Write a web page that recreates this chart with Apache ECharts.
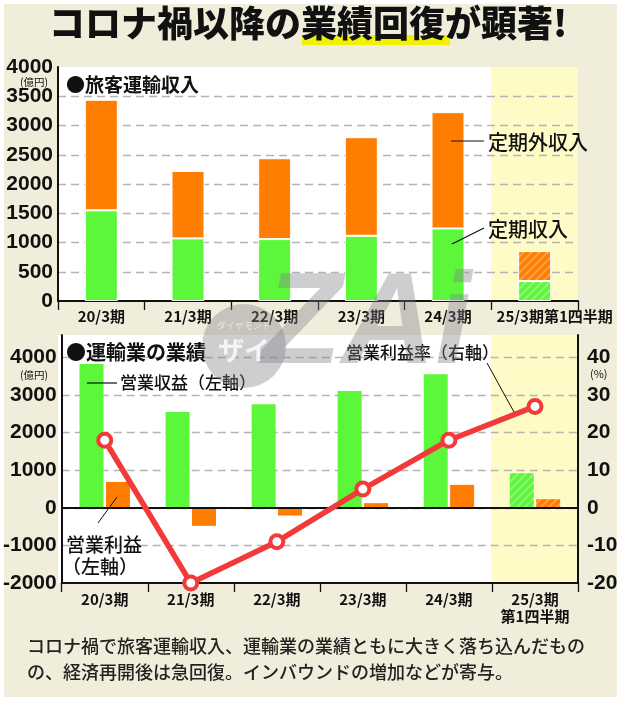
<!DOCTYPE html>
<html><head><meta charset="utf-8">
<script src="https://cdn.jsdelivr.net/npm/echarts@6/dist/echarts.min.js"></script>
<style>html,body{margin:0;padding:0;background:#fff}#c{width:621px;height:702px}</style>
</head><body><div id="c"></div>
<script>
// ---- data ----
const categories = ['20/3期','21/3期','22/3期','23/3期','24/3期','25/3期第1四半期'];
const categoriesBottom = ['20/3期','21/3期','22/3期','23/3期','24/3期','25/3期\n第1四半期'];
const teikiIncome = [1550, 1070, 1058, 1115, 1240, 340];      // 定期収入
const teikigaiIncome = [1890, 1152, 1382, 1685, 1988, 513];   // 定期外収入
const operatingRevenue = [3830, 2553, 2757, 3112, 3555, 922]; // 営業収益
const operatingProfit = [690, -479, -205, 125, 612, 231];     // 営業利益
const operatingMargin = [18, -20, -9, 5, 18, 27];             // 営業利益率(%)
const topTicks = [0, 500, 1000, 1500, 2000, 2500, 3000, 3500, 4000];
const bottomLeftTicks = [-2000, -1000, 0, 1000, 2000, 3000, 4000];
const bottomRightTicks = [-20, -10, 0, 10, 20, 30, 40];

// ---- styles ----
const GREEN = '#5cf63a', ORANGE = '#ff7d00', RED = '#f23a3a', YELLOW = '#fffbc6';
const NUMFONT = '"Liberation Sans Narrow","Liberation Sans",sans-serif';
const JPFONT = '"Noto Sans CJK JP",sans-serif';

function hatch(base, stripe) {
  const c = document.createElement('canvas'); c.width = 8; c.height = 8;
  const g = c.getContext('2d');
  g.fillStyle = base; g.fillRect(0, 0, 8, 8);
  g.strokeStyle = stripe; g.lineWidth = 1.6;
  g.beginPath();
  g.moveTo(-2, 10); g.lineTo(10, -2);
  g.moveTo(-2, 2); g.lineTo(2, -2);
  g.moveTo(6, 10); g.lineTo(10, 6);
  g.stroke();
  return { image: c, repeat: 'repeat' };
}
const GREEN_H = hatch(GREEN, 'rgba(255,255,255,0.35)');
const ORANGE_H = hatch(ORANGE, 'rgba(255,255,255,0.3)');

const last = categories.length - 1;
function withHatch(arr, pat) {
  return arr.map((v, i) => i === last ? { value: v, itemStyle: { color: pat } } : v);
}

const chart = echarts.init(document.getElementById('c'), null, { renderer: 'canvas' });

const yLabel = { color: '#111', fontFamily: NUMFONT, fontWeight: 'bold', fontSize: 21 };
const xLabel = { color: '#111', fontFamily: JPFONT, fontWeight: 'bold', fontSize: 15 };
const dashed = { show: true, lineStyle: { color: '#b4b4b4', type: [8, 5], width: 1.4 } };

const option = {
  backgroundColor: '#ffffff',
  animation: false,
  grid: [
    { left: 58, top: 67, width: 520, height: 234 },
    { left: 58, top: 335, width: 520, height: 248 }
  ],
  xAxis: [
    {
      gridIndex: 0, type: 'category', data: categories,
      axisLine: { lineStyle: { color: '#111', width: 2 } },
      axisTick: { show: true, length: 9, lineStyle: { color: '#111', width: 1.3 } },
      axisLabel: Object.assign({}, xLabel, {
        margin: 8, interval: 0,
        formatter: (v, i) => i === last ? '{sp|}{t|' + v + '}' : v,
        rich: { sp: { width: 40 }, t: Object.assign({}, xLabel) }
      })
    },
    {
      gridIndex: 1, type: 'category', data: categoriesBottom,
      axisLine: { onZero: false, lineStyle: { color: '#111', width: 2 } },
      axisTick: { show: true, length: 9, lineStyle: { color: '#111', width: 1.3 } },
      axisLabel: Object.assign({}, xLabel, { margin: 8, interval: 0, lineHeight: 17 })
    }
  ],
  yAxis: [
    {
      gridIndex: 0, type: 'value', min: 0, max: 4000, interval: 500,
      axisLine: { show: true, lineStyle: { color: '#111', width: 2 } },
      axisTick: { show: false },
      axisLabel: Object.assign({}, yLabel, { margin: 5, formatter: v => String(v) }),
      splitLine: Object.assign({}, dashed, { showMinLine: false, showMaxLine: false })
    },
    {
      gridIndex: 1, type: 'value', min: -2000, max: 4600, interval: 1000,
      axisLine: { show: true, lineStyle: { color: '#111', width: 2 } },
      axisTick: { show: false },
      axisLabel: Object.assign({}, yLabel, { margin: 5, formatter: v => (v % 1000 === 0 ? String(v) : '') }),
      splitLine: Object.assign({}, dashed, { showMinLine: false, showMaxLine: false })
    },
    {
      gridIndex: 1, type: 'value', position: 'right', min: -20, max: 46, interval: 10,
      axisLine: { show: true, lineStyle: { color: '#111', width: 2 } },
      axisTick: { show: false },
      axisLabel: Object.assign({}, yLabel, { margin: 9, formatter: v => (v % 10 === 0 ? String(v) : '') }),
      splitLine: { show: false }
    }
  ],
  series: [
    {
      name: '定期収入', type: 'bar', xAxisIndex: 0, yAxisIndex: 0, stack: 'top',
      barWidth: 33, data: withHatch(teikiIncome, GREEN_H),
      itemStyle: { color: GREEN, borderColor: '#fff', borderWidth: 1 }
    },
    {
      name: '定期外収入', type: 'bar', xAxisIndex: 0, yAxisIndex: 0, stack: 'top',
      barWidth: 33, data: withHatch(teikigaiIncome, ORANGE_H),
      itemStyle: { color: ORANGE, borderColor: '#fff', borderWidth: 1 }
    },
    {
      name: '営業収益', type: 'bar', xAxisIndex: 1, yAxisIndex: 1,
      barWidth: 24, barGap: '10%', data: withHatch(operatingRevenue, GREEN_H),
      itemStyle: { color: GREEN },
      markLine: {
        silent: true, symbol: 'none', label: { show: false },
        lineStyle: { color: '#111', width: 2, type: 'solid' },
        data: [{ yAxis: 0 }]
      }
    },
    {
      name: '営業利益', type: 'bar', xAxisIndex: 1, yAxisIndex: 1,
      barWidth: 24, barGap: '10%', data: withHatch(operatingProfit, ORANGE_H),
      itemStyle: { color: ORANGE }
    },
    {
      name: '営業利益率', type: 'line', xAxisIndex: 1, yAxisIndex: 2, z: 5,
      data: operatingMargin,
      lineStyle: { color: RED, width: 5.5 },
      symbol: 'circle', symbolSize: 13,
      itemStyle: { color: '#fff', borderColor: RED, borderWidth: 4 }
    }
  ]
};
chart.setOption(option);

// ---- decoration (backgrounds from the axes' own scale) ----
const c4 = chart.convertToPixel({ xAxisIndex: 0 }, categories[last - 1]);
const c5 = chart.convertToPixel({ xAxisIndex: 0 }, categories[last]);
const band = c5 - c4;
const tTop = chart.convertToPixel({ yAxisIndex: 0 }, 4000);
const tBot = chart.convertToPixel({ yAxisIndex: 0 }, 0);
const bTop = chart.convertToPixel({ yAxisIndex: 1 }, 4600);
const bBot = chart.convertToPixel({ yAxisIndex: 1 }, -2000);
const gl = chart.convertToPixel({ xAxisIndex: 0 }, categories[0]) - band / 2;
const hl = c5 - band / 2, hr = c5 + band / 2;

function txt(x, y, text, size, weight, extra) {
  return {
    type: 'text', x: x, y: y, z: 20,
    style: Object.assign({ text: text, fill: '#111', font: (weight || 'normal') + ' ' + size + 'px ' + JPFONT, textVerticalAlign: 'middle' }, extra || {})
  };
}
function ln(x1, y1, x2, y2, w) {
  return { type: 'line', z: 20, shape: { x1, y1, x2, y2 }, style: { stroke: '#111', lineWidth: w || 1.2 } };
}

const WM = 'rgba(125,125,135,0.38)';
const graphics = [
  // page panel
  { type: 'rect', z: -100, shape: { x: 4, y: 4, width: 613, height: 693 }, style: { fill: '#f0eedb' } },
  // plot backgrounds
  { type: 'rect', z: -90, shape: { x: gl, y: tTop, width: hl - gl, height: tBot - tTop }, style: { fill: '#fff' } },
  { type: 'rect', z: -90, shape: { x: hl, y: tTop, width: hr - hl, height: tBot - tTop }, style: { fill: YELLOW } },
  { type: 'rect', z: -90, shape: { x: gl, y: bTop, width: hl - gl, height: bBot - bTop }, style: { fill: '#fff' } },
  { type: 'rect', z: -90, shape: { x: hl, y: bTop, width: hr - hl, height: bBot - bTop }, style: { fill: YELLOW } },
  // title
  { type: 'rect', z: 10, shape: { x: 302, y: 35, width: 148, height: 10 }, style: { fill: '#f2f200' } },
  { type: 'text', z: 11, x: 49, y: 23, style: { text: 'コロナ禍以降の業績回復が顕著!', fill: '#111', font: '900 36px ' + JPFONT, textVerticalAlign: 'middle' } },
  // units
  txt(20, 82, '(億円)', 10.5, 'normal'),
  txt(20, 375, '(億円)', 10.5, 'normal'),
  txt(590, 374, '(%)', 11, 'normal'),
  // headings
  txt(66, 85, '●旅客運輸収入', 19, 'bold'),
  txt(66, 352, '●運輸業の業績', 20, 'bold'),
  // top annotations
  ln(451, 141, 484, 141), txt(488, 142, '定期外収入', 20, '500'),
  ln(452, 244, 484, 228), txt(488, 229, '定期収入', 20, '500'),
  // bottom annotations
  ln(87, 383, 117, 383), txt(120, 383, '営業収益（左軸）', 17, '500'),
  txt(346, 353, '営業利益率（右軸）', 17, '500'),
  ln(487, 363, 514, 412, 1),
  ln(98, 523, 117, 497, 1),
  txt(66, 545, '営業利益', 19, '500'),
  txt(62, 567, '（左軸）', 19, '500'),
  // caption
  txt(27, 646, 'コロナ禍で旅客運輸収入、運輸業の業績ともに大きく落ち込んだもの', 18, '500', { fill: '#222' }),
  txt(27, 672, 'の、経済再開後は急回復。インバウンドの増加などが寄与。', 18, '500', { fill: '#222' }),
  // watermark
  { type: 'circle', z: 30, shape: { cx: 244, cy: 346, r: 42 }, style: { fill: WM } },
  { type: 'text', z: 31, x: 244, y: 326, style: { text: 'ダイヤモンド', fill: 'rgba(255,255,255,0.6)', font: '9px ' + JPFONT, textAlign: 'center', textVerticalAlign: 'middle' } },
  { type: 'text', z: 31, x: 244, y: 350, style: { text: 'ザイ', fill: 'rgba(255,255,255,0.8)', font: 'bold 26px ' + JPFONT, textAlign: 'center', textVerticalAlign: 'middle' } },
  { type: 'text', z: 30, x: 262, y: 392, style: { text: 'ZAi', fill: WM, font: 'italic 900 130px "Liberation Sans",sans-serif', textVerticalAlign: 'bottom' } }
];
chart.setOption({ graphic: graphics });
</script></body></html>
